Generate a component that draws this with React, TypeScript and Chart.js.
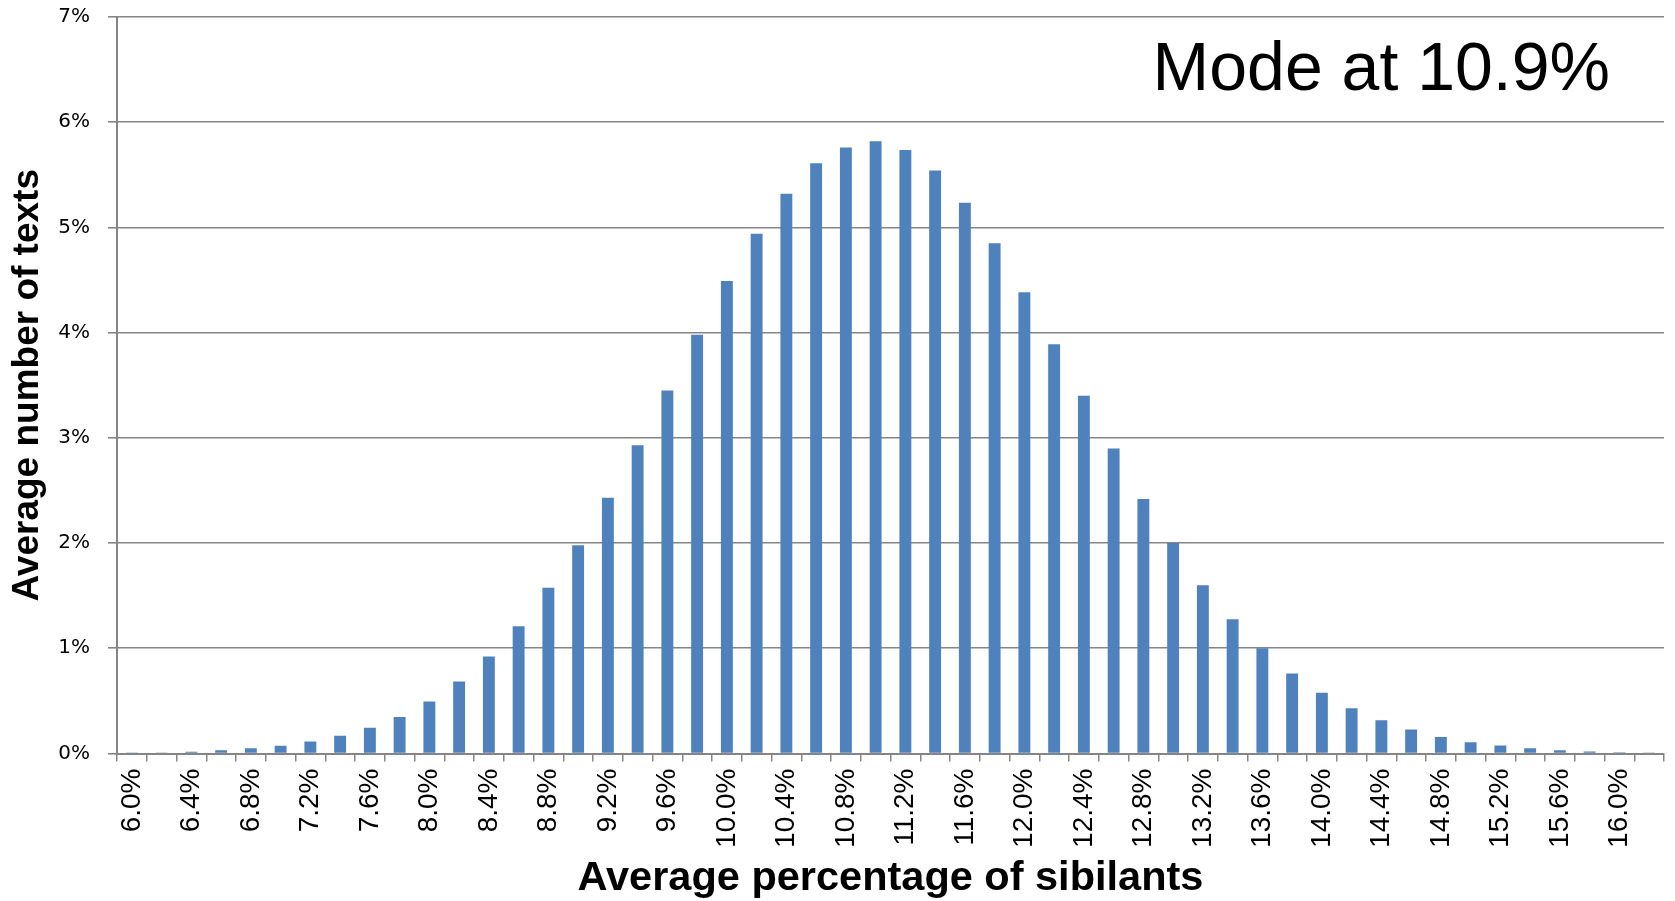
import { useEffect, useRef } from "react";
import { Chart, registerables } from "chart.js";

Chart.register(...registerables);

const categories = [
  "6.0%", "6.2%", "6.4%", "6.6%", "6.8%", "7.0%", "7.2%", "7.4%", "7.6%", "7.8%",
  "8.0%", "8.2%", "8.4%", "8.6%", "8.8%", "9.0%", "9.2%", "9.4%", "9.6%", "9.8%",
  "10.0%", "10.2%", "10.4%", "10.6%", "10.8%", "11.0%", "11.2%", "11.4%", "11.6%", "11.8%",
  "12.0%", "12.2%", "12.4%", "12.6%", "12.8%", "13.0%", "13.2%", "13.4%", "13.6%", "13.8%",
  "14.0%", "14.2%", "14.4%", "14.6%", "14.8%", "15.0%", "15.2%", "15.4%", "15.6%", "15.8%",
  "16.0%", "16.2%",
];

const shareOfTexts = [
  0.003, 0.01, 0.016, 0.03, 0.05, 0.073, 0.114, 0.168, 0.245, 0.346,
  0.495, 0.685, 0.922, 1.21, 1.575, 1.98, 2.43, 2.93, 3.45, 3.98,
  4.49, 4.94, 5.32, 5.61, 5.76, 5.82, 5.735, 5.54, 5.235, 4.85,
  4.385, 3.89, 3.4, 2.9, 2.42, 2.0, 1.6, 1.275, 1.0, 0.76,
  0.577, 0.43, 0.317, 0.228, 0.158, 0.108, 0.076, 0.05, 0.03, 0.02,
  0.012, 0.005,
];

const yTicks = [0, 1, 2, 3, 4, 5, 6, 7];
const annotationText = "Mode at 10.9%";
const xTitle = "Average percentage of sibilants";
const yTitle = "Average number of texts";

const GRID = "#858585";

const modePlugin = {
  id: "modeText",
  afterDraw(chart: any) {
    const ctx = chart.ctx;
    ctx.save();
    ctx.fillStyle = "#000";
    ctx.font = '68px "Liberation Sans Narrow", "Liberation Sans", sans-serif';
    ctx.textAlign = "right";
    ctx.textBaseline = "alphabetic";
    ctx.fillText(annotationText, chart.chartArea.right - 54, 90);
    ctx.restore();
  },
};

export default function App() {
  const ref = useRef<HTMLCanvasElement | null>(null);

  useEffect(() => {
    if (!ref.current) return;
    const chart = new Chart(ref.current, {
      type: "bar",
      data: {
        labels: categories,
        datasets: [
          {
            data: shareOfTexts,
            backgroundColor: "#4F81BD",
            borderWidth: 0,
            barPercentage: 0.4,
            categoryPercentage: 1.0,
          },
        ],
      },
      options: {
        responsive: false,
        animation: false,
        devicePixelRatio: 1,
        layout: { padding: { top: 17, right: 11, bottom: 0, left: 0 } },
        plugins: {
          legend: { display: false },
          tooltip: { enabled: false },
        },
        scales: {
          x: {
            grid: {
              offset: true,
              drawOnChartArea: false,
              drawTicks: true,
              tickLength: 8,
              color: GRID,
              lineWidth: 1.5,
            },
            border: { color: GRID, width: 2 },
            ticks: {
              autoSkip: false,
              maxRotation: 90,
              minRotation: 90,
              padding: 7,
              color: "#000",
              font: { family: '"Liberation Sans Narrow", "Liberation Sans", sans-serif', size: 28 },
              callback: (_v: any, i: number) => (i % 2 === 0 ? categories[i] : ""),
            },
            title: {
              display: true,
              text: xTitle,
              color: "#000",
              font: { family: '"Liberation Sans", sans-serif', size: 41.5, weight: "bold", lineHeight: 1.1 },
              padding: { top: 0, bottom: 0 },
            },
            afterFit: (scale: any) => {
              scale.height = 147.5;
              scale.paddingLeft = 0;
              scale.paddingRight = 0;
            },
          },
          y: {
            min: 0,
            max: 7,
            afterBuildTicks: (scale: any) => {
              scale.ticks = yTicks.map((v) => ({ value: v }));
            },
            grid: {
              color: GRID,
              lineWidth: 1.6,
              tickLength: 9,
            },
            border: { color: GRID, width: 2 },
            ticks: {
              padding: 18,
              color: "#000",
              font: { family: '"DejaVu Sans", sans-serif', size: 20 },
              callback: (v: any) => `${v}%`,
            },
            title: {
              display: true,
              text: yTitle,
              color: "#000",
              font: { family: '"Liberation Sans", sans-serif', size: 37, weight: "bold" },
              padding: { top: 6, bottom: 0 },
            },
            afterFit: (scale: any) => {
              scale.width = 117;
              scale.paddingTop = 0;
              scale.paddingBottom = 0;
            },
          },
        },
      },
      plugins: [modePlugin],
    });
    return () => chart.destroy();
  }, []);

  return (
    <div style={{ position: "fixed", left: 0, top: 0, width: 1675, height: 901, background: "#fff" }}>
      <canvas ref={ref} width={1675} height={901} style={{ display: "block" }} />
    </div>
  );
}
